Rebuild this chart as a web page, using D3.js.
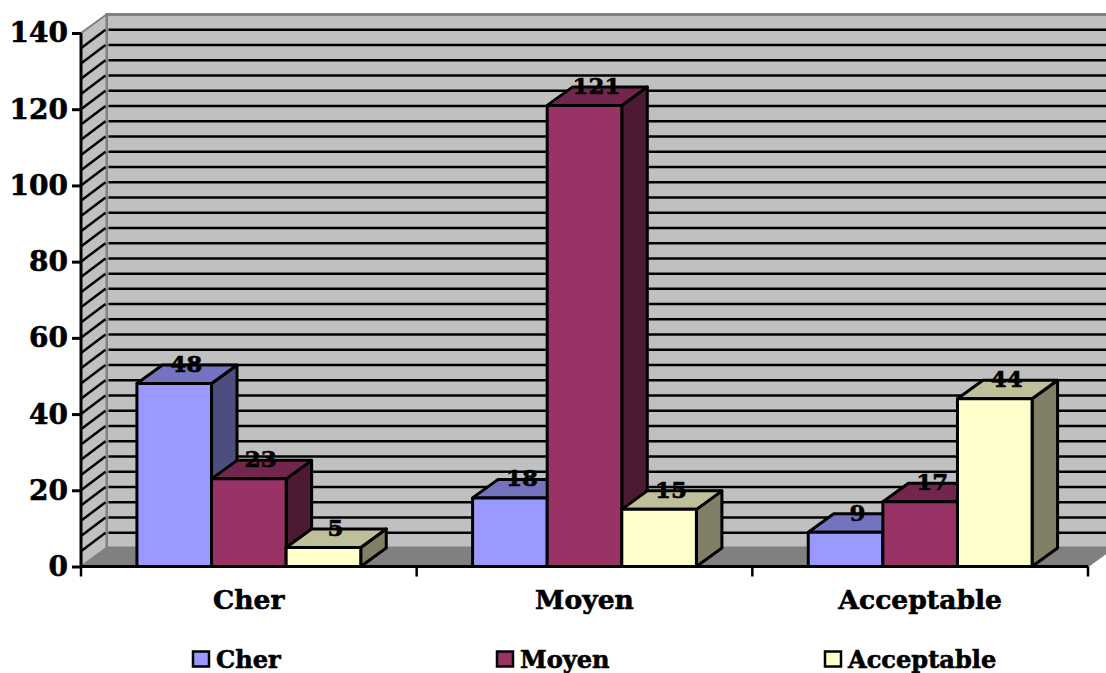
<!DOCTYPE html>
<html><head><meta charset="utf-8">
<script src="https://cdn.jsdelivr.net/npm/d3@7"></script>
<style>html,body{margin:0;padding:0;background:#fff;overflow:hidden}svg{display:block}
text{font-family:"DejaVu Serif",serif;font-weight:bold;fill:#000;stroke:#000;stroke-width:.6px}</style></head><body>
<svg id="c" width="1106" height="673"></svg>
<script>
const categories=["Cher","Moyen","Acceptable"];
const seriesNames=["Cher","Moyen","Acceptable"];
const cherValues=[48,18,9];
const moyenValues=[23,121,17];
const acceptableValues=[5,15,44];
const seriesValues=[cherValues,moyenValues,acceptableValues];
const yMajor=[0,20,40,60,80,100,120,140];
const gridStep=4, yMax=140;
const faceColors=["#9999ff","#993366","#ffffcc"];
const topColors=["#7373bf","#73264d","#bfbf99"];
const sideColors=["#4d4d80","#4d1a33","#808066"];

const svg=d3.select("#c");
const dx=25.5,dy=-18.5;
const left=81,right=1088,base=566.5,topY=33;
const x=d3.scaleBand().domain(categories).range([left,right]).paddingInner(0).paddingOuter(0);
const bar=d3.scaleBand().domain(d3.range(3)).range([0,x.bandwidth()]).paddingInner(0);
bar.paddingOuter(56/74.7);
const y=d3.scaleLinear().domain([0,yMax]).range([base,topY]);
const poly=(pts,fill,sw=3,stroke="#000")=>svg.append("polygon").attr("points",pts.map(p=>p.join(",")).join(" ")).attr("fill",fill).attr("stroke",stroke).attr("stroke-width",sw).attr("stroke-linejoin","round");

// walls and floor
poly([[left+dx,base+dy],[left+dx,topY+dy],[1110,topY+dy],[1110,base+dy]],"#c0c0c0",3,"#808080");
poly([[left,base],[left,topY],[left+dx,topY+dy],[left+dx,base+dy]],"#c0c0c0",2,"#808080");
poly([[left,base],[left+dx,base+dy],[right+dx,base+dy],[right,base]],"#808080",1.5,"#808080");

// gridlines
const gridVals=d3.range(gridStep,yMax,gridStep);
svg.append("g").selectAll("line").data(gridVals).join("line")
 .attr("x1",left+dx+2).attr("x2",1106).attr("y1",d=>y(d)+dy).attr("y2",d=>y(d)+dy)
 .attr("stroke","#000").attr("stroke-width",2.5);
svg.append("g").selectAll("line").data(gridVals).join("line")
 .attr("x1",left).attr("x2",left+dx-1).attr("y1",d=>y(d)).attr("y2",d=>y(d)+dy)
 .attr("stroke","#000").attr("stroke-width",2.5);

// bars
categories.forEach((c,ci)=>{
 seriesValues.forEach((vals,si)=>{
  const v=vals[ci],x0=x(c)+bar(si),x1=x0+bar.bandwidth(),yt=y(v);
  poly([[x1,base],[x1,yt],[x1+dx,yt+dy],[x1+dx,base+dy]],sideColors[si]);
  poly([[x0,yt],[x0+dx,yt+dy],[x1+dx,yt+dy],[x1,yt]],topColors[si]);
  poly([[x0,base],[x0,yt],[x1,yt],[x1,base]],faceColors[si]);
 });
});

// axes
const yAxis=d3.axisLeft(y).tickValues(yMajor).tickSize(9).tickPadding(4).tickFormat(d3.format("d"));
const gy=svg.append("g").attr("transform",`translate(${left},0)`).call(yAxis);
gy.selectAll("path").attr("stroke","#000").attr("stroke-width",3).attr("d",`M0,${topY}V${base}`);
gy.selectAll("line").attr("stroke","#000").attr("stroke-width",3);
gy.selectAll("text").attr("font-size",28).attr("font-family",'"DejaVu Serif",serif').attr("font-weight","bold").attr("fill","#000");
const xAxis=d3.axisBottom(x).tickSize(0).tickPadding(24);
const gx=svg.append("g").attr("transform",`translate(0,${base})`).call(xAxis);
gx.selectAll("path").attr("stroke","#000").attr("stroke-width",3).attr("d",`M${left},0H${right}`);
gx.selectAll("text").attr("font-size",26.6).attr("font-family",'"DejaVu Serif",serif').attr("font-weight","bold").attr("fill","#000");
svg.append("g").selectAll("line").data(d3.range(categories.length+1)).join("line")
 .attr("x1",i=>left+i*x.bandwidth()).attr("x2",i=>left+i*x.bandwidth())
 .attr("y1",base).attr("y2",base+10).attr("stroke","#000").attr("stroke-width",2.5);

// data labels
categories.forEach((c,ci)=>{
 seriesValues.forEach((vals,si)=>{
  const v=vals[ci];
  svg.append("text").attr("x",x(c)+bar(si)+bar.bandwidth()/2+12).attr("y",y(v)+dy+7)
   .attr("text-anchor","middle").attr("font-size",23).text(v);
 });
});

// legend
const legendX=d3.scaleOrdinal().domain(seriesNames).range([192,496,824]);
const lg=svg.append("g").selectAll("g").data(seriesNames).join("g").attr("transform",d=>`translate(${legendX(d)},651)`);
lg.append("rect").attr("x",1).attr("y",.5).attr("width",16).attr("height",15).attr("fill",(d,i)=>faceColors[i]).attr("stroke","#000").attr("stroke-width",2.5);
lg.append("text").attr("x",24).attr("y",17).attr("font-size",24.1).text(d=>d);
</script></body></html>
